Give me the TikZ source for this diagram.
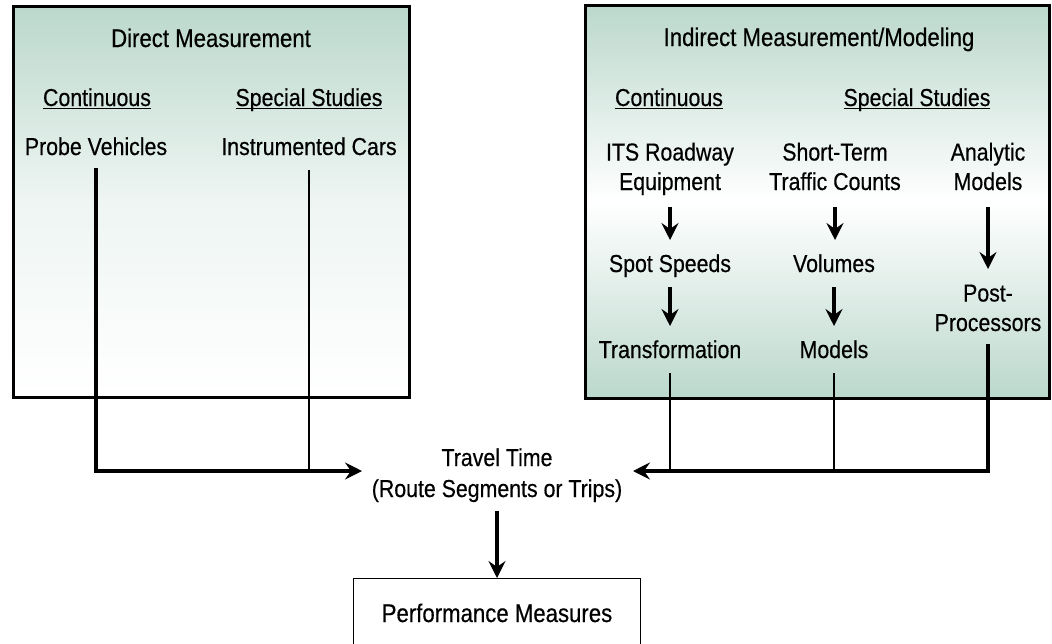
\documentclass[tikz,border=0pt]{standalone}
\usepackage{fontspec}
\setmainfont[FakeStretch=0.87,FakeBold=0.4]{Liberation Sans}
\usetikzlibrary{arrows.meta}
\definecolor{boxgreen}{RGB}{187,216,204}
\newcommand\myul[1]{\setbox0\hbox{#1}\rlap{\rule[-3.4pt]{\wd0}{1.4pt}}\box0}
\begin{document}
\begin{tikzpicture}[x=1pt,y=-1pt,
  lbl/.style={anchor=base, inner sep=0pt, font=\fontsize{24.5}{29.5}\selectfont, align=center},
  ttl/.style={lbl, font=\fontsize{25.5}{30}\selectfont},
  thickline/.style={line width=3.4pt},
  thinline/.style={line width=1.2pt},
  arr/.style={-{Stealth[length=17pt,width=17pt,inset=6pt]}},
  frame/.style={line width=3pt}]
\useasboundingbox (0,0) rectangle (1052,643);
% boxes
\shade[top color=boxgreen, bottom color=white, middle color=boxgreen!25] (13,6) rectangle (409,397);
\draw[frame] (13,6) rectangle (409,397);
\shade[top color=boxgreen, bottom color=boxgreen, middle color=white] (585,5) rectangle (1049,398);
\draw[frame] (585,5) rectangle (1049,398);
% left box texts
\node[ttl] (dm) at (211,47) {Direct Measurement};
\node[lbl] (c1) at (97,106) {\myul{Continuous}};
\node[lbl] (ss1) at (309,106) {\myul{Special Studies}};
\node[lbl] (pv) at (96,155) {Probe Vehicles};
\node[lbl] (ic) at (309,155) {Instrumented Cars};
% right box texts
\node[ttl] (idm) at (819,46) {Indirect Measurement/Modeling};
\node[lbl] (c2) at (669,106) {\myul{Continuous}};
\node[lbl] (ss2) at (917,106) {\myul{Special Studies}};
\node[lbl] (its) at (670,190) {ITS Roadway\\Equipment};
\node[lbl] (stc) at (835,190) {Short-Term\\Traffic Counts};
\node[lbl] (am) at (988,190) {Analytic\\Models};
\node[lbl] (sp) at (670,272) {Spot Speeds};
\node[lbl] (vol) at (834,272) {Volumes};
\node[lbl] (pp) at (988,331) {Post-\\Processors};
\node[lbl] (tr) at (670,358) {Transformation};
\node[lbl] (mo) at (834,358) {Models};
% center
\node[lbl, font=\fontsize{24.5}{31}\selectfont] (tt) at (497,497) {Travel Time\\(Route Segments or Trips)};
\coordinate (ttw) at (362,471);
\coordinate (tte) at (633,471);
\node[draw, line width=1.4pt, minimum width=287pt, minimum height=90pt, anchor=north, inner sep=0pt] (pmbox) at (497,578) {};
\node[ttl] (pm) at (497,622) {Performance Measures};
% connectors left
\draw[thickline, arr] ([yshift=-13pt]pv.base) |- (ttw);
\draw[thinline] ([yshift=-15pt]ic.base) -- (ic.base |- ttw);
% connectors right
\draw[thickline, arr] (its.base |- 0,207) -- (its.base |- 0,240);
\draw[thickline, arr] (sp.base |- 0,287) -- (sp.base |- 0,326);
\draw[thickline, arr] (stc.base |- 0,207) -- (stc.base |- 0,240);
\draw[thickline, arr] (vol.base |- 0,287) -- (vol.base |- 0,326);
\draw[thickline, arr] (am.base |- 0,207) -- (am.base |- 0,269);
\draw[thickline, arr] (pp.base |- 0,344) |- (tte);
\draw[thinline] (tr.base |- 0,373) -- (tr.base |- tte);
\draw[thinline] (mo.base |- 0,373) -- (mo.base |- tte);
% to performance
\draw[thickline, arr] (tt.base |- 0,511) -- (pmbox.north);
\end{tikzpicture}
\end{document}
